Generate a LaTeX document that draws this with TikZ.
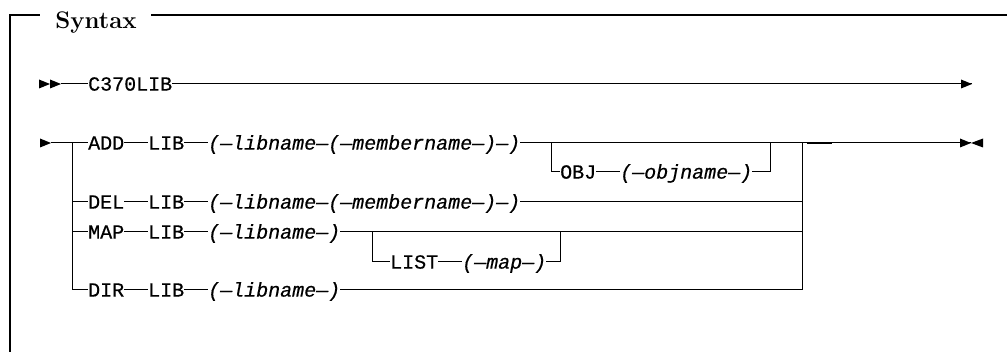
\documentclass[tikz,border=0pt]{standalone}
\usepackage{fontspec}
\setmonofont{Liberation Mono}[FakeBold=0.5]
\newcommand{\railfont}{\fontsize{20}{24}\selectfont\ttfamily}
% filled heads: pointing right / left, tip at #1
\newcommand{\headR}[1]{\fill #1 -- ++(-11,-4.5) -- ++(0,9) -- cycle;}
\newcommand{\headL}[1]{\fill #1 -- ++(12,-4.5) -- ++(0,9) -- cycle;}
\begin{document}
\begin{tikzpicture}[
  x=1pt, y=-1pt,
  kw/.style={font=\railfont, anchor=west, inner sep=0pt, text height=18pt, text depth=4.8pt},
  arg/.style={kw, font=\railfont\itshape},
  rail/.style={line width=1pt},
  frame/.style={line width=1.2pt},
  title/.style={font=\fontsize{24}{28}\selectfont\bfseries, anchor=base, inner sep=0pt}
]
\useasboundingbox (0,0) rectangle (1007,352);

% frame with heading
\coordinate (tl) at (10,15);
\coordinate (bl) at (10,352);
\coordinate (tr) at (1007,15);
\coordinate (gl) at (40,15);
\coordinate (gr) at (151,15);
\node[title] (head) at (96,29) {Syntax};
\draw[frame] (bl) -- (tl) -- (gl);
\draw[frame] (gr) -- (tr);

% first line
\coordinate (s1) at (61,84);
\coordinate (e1) at (972,84);
\node[kw] (c370) at (88,84) {C370LIB};
\draw[rail] (s1) -- (c370.west);
\draw[rail] (c370.east) -- (e1);
\headR{(50,84)} \headR{(s1)} \headR{(e1)}

% second line: junctions
\coordinate (s2) at (51,143);
\coordinate (jl) at (72,143);
\coordinate (jr) at (802,143);
\coordinate (e2) at (971,143);

\node[kw]  (add)    at (88,143)  {ADD};
\node[kw]  (addlib) at (148,143) {LIB};
\node[arg] (addarg) at (208,143) {(—libname—(—membername—)—)};

\coordinate (ob) at (551,143);
\coordinate (oe) at (770,143);
\node[kw]  (obj)    at (560,172) {OBJ};
\node[arg] (objarg) at (620,172) {(—objname—)};

\node[kw]  (del)    at (88,202)  {DEL};
\node[kw]  (dellib) at (148,202) {LIB};
\node[arg] (delarg) at (208,202) {(—libname—(—membername—)—)};

\node[kw]  (map)    at (88,232)  {MAP};
\node[kw]  (maplib) at (148,232) {LIB};
\node[arg] (maparg) at (208,232) {(—libname—)};

\coordinate (lb) at (372,232);
\coordinate (le) at (560,232);
\node[kw]  (list)    at (390,262) {LIST};
\node[arg] (listarg) at (462,262) {(—map—)};

\node[kw]  (dir)    at (88,290)  {DIR};
\node[kw]  (dirlib) at (148,290) {LIB};
\node[arg] (dirarg) at (208,290) {(—libname—)};

\draw[rail] (s2) -- (add.west);
\draw[rail] (add.east) -- (addlib.west);
\draw[rail] (addlib.east) -- (addarg.west);
\draw[rail] (addarg.east) -- (e2);
\draw[rail] (ob) |- (obj.west);
\draw[rail] (obj.east) -- (objarg.west);
\draw[rail] (objarg.east) -| (oe);
\draw[line width=2pt] (jr) ++(5,0) -- ++(25,0);

\draw[rail] (jl) |- (dir.west);
\draw[rail] (jl |- del) -- (del.west);
\draw[rail] (del.east) -- (dellib.west);
\draw[rail] (dellib.east) -- (delarg.west);
\draw[rail] (delarg.east) -- (delarg.east -| jr);

\draw[rail] (jl |- map) -- (map.west);
\draw[rail] (map.east) -- (maplib.west);
\draw[rail] (maplib.east) -- (maparg.west);
\draw[rail] (maparg.east) -- (maparg.east -| jr);
\draw[rail] (lb) |- (list.west);
\draw[rail] (list.east) -- (listarg.west);
\draw[rail] (listarg.east) -| (le);

\draw[rail] (dir.east) -- (dirlib.west);
\draw[rail] (dirlib.east) -- (dirarg.west);
\draw[rail] (dirarg.east) -| (jr);

\headR{(s2)} \headR{(e2)} \headL{(e2)}
\end{tikzpicture}
\end{document}
